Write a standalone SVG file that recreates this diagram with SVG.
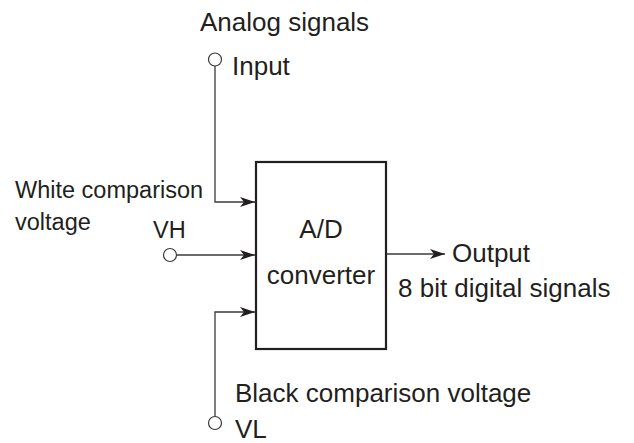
<svg xmlns="http://www.w3.org/2000/svg" width="634" height="443" viewBox="0 0 634 443">
<defs>
<marker id="arr" markerWidth="16" markerHeight="10" refX="15" refY="5" orient="auto" markerUnits="userSpaceOnUse">
<path d="M0,0 L15,5 L0,10 L4,5 Z" fill="#231f20"/>
</marker>
</defs>
<style>
text{font-family:"Liberation Sans",Arial,sans-serif;font-size:26px;fill:#231f20}
.sm{font-size:23.5px}
.ln{fill:none;stroke:#3a3a3a;stroke-width:1.3}
.term{fill:#fff;stroke:#3a3a3a;stroke-width:1.2}
</style>
<rect width="634" height="443" fill="#fff"/>
<g id="converter">
<rect x="256" y="162" width="130" height="187" fill="#fff" stroke="#231f20" stroke-width="2.2"/>
<text x="321" y="238" text-anchor="middle">A/D</text>
<text x="321" y="284" text-anchor="middle">converter</text>
</g>
<g id="connectors">
<path class="ln" d="M215,66 V202 H255" marker-end="url(#arr)"/>
<path class="ln" d="M177,255 H255" marker-end="url(#arr)"/>
<path class="ln" d="M215,416 V312 H255" marker-end="url(#arr)"/>
<path class="ln" d="M387,254 H445" marker-end="url(#arr)"/>
</g>
<g id="input">
<circle class="term" cx="215" cy="59.5" r="6.5"/>
<text x="200" y="31">Analog signals</text>
<text x="232" y="75">Input</text>
</g>
<g id="vh">
<circle class="term" cx="170" cy="255" r="6.5"/>
<text class="sm" x="15" y="198">White comparison</text>
<text class="sm" x="15" y="230">voltage</text>
<text class="sm" x="153" y="238">VH</text>
</g>
<g id="vl">
<circle class="term" cx="215" cy="423" r="6.5"/>
<text x="235" y="402">Black comparison voltage</text>
<text x="235" y="438">VL</text>
</g>
<g id="output">
<text x="452" y="262">Output</text>
<text x="398" y="297">8 bit digital signals</text>
</g>
</svg>
